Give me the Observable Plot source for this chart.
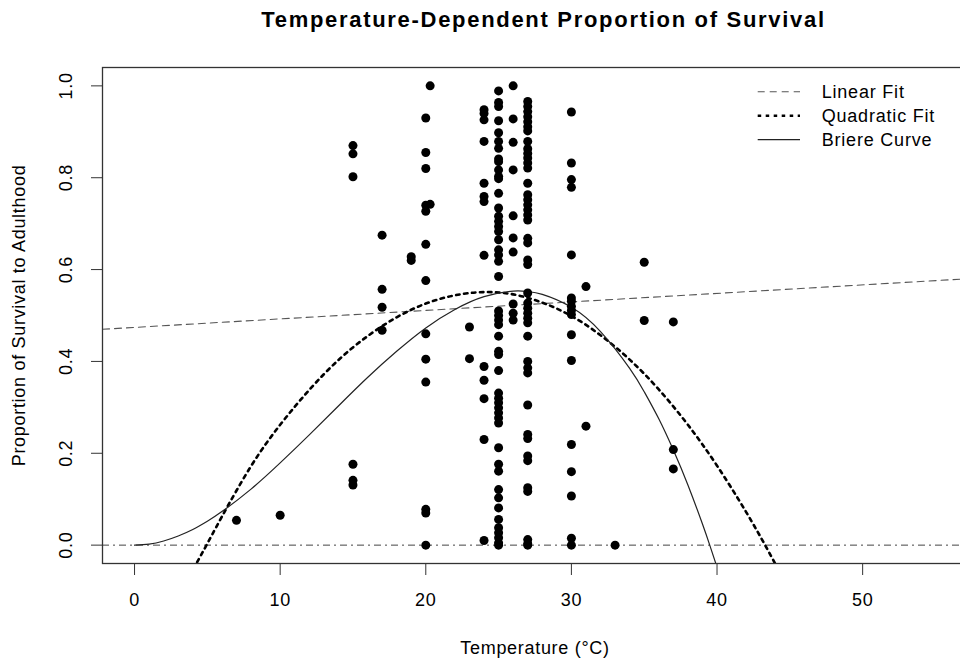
<!DOCTYPE html>
<html>
<head>
<meta charset="utf-8">
<script src="https://cdn.jsdelivr.net/npm/d3@7"></script>
<script src="https://cdn.jsdelivr.net/npm/@observablehq/plot@0.6"></script>
<style>
  html, body { margin: 0; padding: 0; background: #fff; overflow: hidden; }
  #wrap { position: relative; width: 960px; height: 662px; overflow: hidden;
          font-family: "Liberation Sans", Arial, Helvetica, sans-serif; }
  #title { position: absolute; left: 102px; width: 883px; top: 9px; line-height: 22px;
           text-align: center; font-weight: bold; font-size: 22px; letter-spacing: 1.7px; color: #000; }
  #legend { position: absolute; left: 750px; top: 78px; overflow: visible; }
</style>
</head>
<body>
<div id="wrap">
  <div id="chart"></div>
  <div id="title"></div>
  <svg id="legend" width="210" height="80"></svg>
</div>
<script>
// ---- Text ----
const titleText = "Temperature-Dependent Proportion of Survival";
const xLabel = "Temperature (°C)";
const yLabel = "Proportion of Survival to Adulthood";
const xTicks = [0, 10, 20, 30, 40, 50];
const yTicks = [0, 0.2, 0.4, 0.6, 0.8, 1.0];
const legendLabels = ["Linear Fit", "Quadratic Fit", "Briere Curve"];

// ---- Observed proportions, per temperature (°C) ----
const s7 = [0.054];
const s10 = [0.065];
const s15 = [0.870, 0.852, 0.802, 0.176, 0.141, 0.131];
const s17 = [0.675, 0.557, 0.518, 0.468];
const s19 = [0.628, 0.620];
const s20 = [0.930, 0.855, 0.820, 0.740, 0.727, 0.655, 0.576, 0.460, 0.405, 0.355, 0.078, 0.070, 0.0];
const s20b = [1.0, 0.742];
const s23 = [0.475, 0.406];
const s24 = [0.948, 0.940, 0.926, 0.879, 0.788, 0.759, 0.748, 0.631, 0.389, 0.359, 0.319, 0.230, 0.010];
const s25 = [0.989, 0.964, 0.955, 0.924, 0.898, 0.879, 0.864, 0.841, 0.835, 0.817, 0.803, 0.798, 0.766,
             0.734, 0.716, 0.705, 0.694, 0.683, 0.665, 0.643, 0.632, 0.618, 0.585, 0.510, 0.500, 0.490,
             0.480, 0.455, 0.422, 0.415, 0.380, 0.331, 0.320, 0.310, 0.299, 0.288, 0.277, 0.266, 0.212,
             0.176, 0.161, 0.121, 0.103, 0.081, 0.056, 0.038, 0.027, 0.016, 0.005, 0.0];
const s26 = [1.0, 0.928, 0.877, 0.817, 0.717, 0.669, 0.638, 0.525, 0.505, 0.490];
const s27 = [0.966, 0.955, 0.944, 0.933, 0.922, 0.911, 0.902, 0.879, 0.863, 0.853, 0.843, 0.832, 0.821,
             0.788, 0.763, 0.752, 0.741, 0.730, 0.719, 0.708, 0.668, 0.658, 0.621, 0.611, 0.549, 0.527,
             0.516, 0.505, 0.494, 0.484, 0.455, 0.400, 0.386, 0.375, 0.305, 0.241, 0.232, 0.194, 0.184,
             0.125, 0.117, 0.012, 0.003, 0.0];
const s30 = [0.943, 0.832, 0.796, 0.779, 0.632, 0.538, 0.531, 0.520, 0.511, 0.502, 0.458, 0.402, 0.219,
             0.160, 0.107, 0.015, 0.0];
const s31 = [0.563, 0.259];
const s33 = [0.0];
const s35 = [0.616, 0.489];
const s37 = [0.486, 0.208, 0.166];
const columnTemps = [7, 10, 15, 17, 19, 20, 20.3, 23, 24, 25, 26, 27, 30, 31, 33, 35, 37];
const columnValues = [s7, s10, s15, s17, s19, s20, s20b, s23, s24, s25, s26, s27, s30, s31, s33, s35, s37];

// ---- Fitted curves ----
const linearT = [-2.2, 57.2];
const linearY = [0.470, 0.580];
const quadT = [4.3, 4.94, 6, 8, 10, 12, 14, 16, 18, 20, 22, 24, 26, 28, 30, 32, 34, 36, 38, 40, 42, 43.3, 44];
const quadY = [-0.037, 0.0, 0.062, 0.172, 0.262, 0.338, 0.403, 0.455, 0.496, 0.526, 0.544, 0.551, 0.546,
               0.528, 0.499, 0.457, 0.404, 0.339, 0.262, 0.173, 0.072, 0.0, -0.041];
const briereT = [0, 1, 2, 3, 4, 5, 6, 8, 10, 12, 14, 16, 18, 20, 22, 24, 26, 27, 28, 30, 32, 34, 35, 36, 37, 38, 39, 39.5, 40];
const briereY = [0, 0.002, 0.009, 0.020, 0.034, 0.052, 0.073, 0.122, 0.179, 0.240, 0.303, 0.365, 0.422,
                 0.473, 0.513, 0.541, 0.553, 0.552, 0.546, 0.518, 0.465, 0.385, 0.334, 0.275, 0.207, 0.131,
                 0.046, 0.0, -0.048];

// ---- Build tables ----
const points = [];
columnTemps.forEach((t, i) => columnValues[i].forEach(v => points.push({t, v})));
const linearData = linearT.map((t, i) => ({t, v: linearY[i]}));
const quadData = quadT.map((t, i) => ({t, v: quadY[i]}));
const briereData = briereT.map((t, i) => ({t, v: briereY[i]}));

const FONT = "Liberation Sans, Arial, Helvetica, sans-serif";
const chart = Plot.plot({
  width: 960,
  height: 662,
  marginLeft: 102,
  marginRight: -7,
  marginTop: 67,
  marginBottom: 99,
  style: {fontFamily: FONT, fontSize: "18px", letterSpacing: "0.7px", background: "white", color: "#000", overflow: "hidden"},
  x: {domain: [-2.2, 57.2]},
  y: {domain: [-0.04, 1.04]},
  marks: [
    Plot.axisX({ticks: xTicks, tickSize: 12, tickPadding: 18, fontSize: 18, label: null, stroke: "#333"}),
    Plot.axisY({ticks: yTicks, tickSize: 11, tickFormat: () => "", label: null, stroke: "#333"}),
    Plot.text(yTicks, {y: d => d, frameAnchor: "left", dx: -36, rotate: -90, textAnchor: "middle",
                       lineAnchor: "middle", text: d => d.toFixed(1), fontSize: 18, fill: "#000"}),
    Plot.text([xLabel], {frameAnchor: "bottom", dy: 85, lineAnchor: "middle", textAnchor: "middle",
                         text: d => d, fontSize: 18, fill: "#000"}),
    Plot.text([yLabel], {frameAnchor: "left", dx: -83, rotate: -90, textAnchor: "middle", lineAnchor: "middle",
                         text: d => d, fontSize: 18, fill: "#000"}),
    Plot.ruleY([0], {stroke: "#444", strokeWidth: 1, strokeDasharray: "7,4,2,4"}),
    Plot.line(linearData, {x: "t", y: "v", stroke: "#555", strokeWidth: 1.1, strokeDasharray: "7,5", clip: true}),
    Plot.line(quadData, {x: "t", y: "v", curve: "natural", stroke: "#000", strokeWidth: 2.6,
                         strokeDasharray: "3.5,4.5", clip: true}),
    Plot.line(briereData, {x: "t", y: "v", curve: "natural", stroke: "#222", strokeWidth: 1.2, clip: true}),
    Plot.dot(points, {x: "t", y: "v", r: 4.5, fill: "#000", stroke: "none"}),
    Plot.frame({stroke: "#333", strokeWidth: 1.3})
  ]
});
document.getElementById("chart").appendChild(chart);
document.getElementById("title").textContent = titleText;

// ---- Legend ----
const legendStyles = [
  {stroke: "#555", width: 1.1, dash: "7,5"},
  {stroke: "#000", width: 2.6, dash: "3.5,4.5"},
  {stroke: "#222", width: 1.2, dash: null}
];
const leg = d3.select("#legend");
legendLabels.forEach((lab, i) => {
  const cy = 13.7 + i * 24;
  const s = legendStyles[i];
  leg.append("line").attr("x1", 7.7).attr("x2", 50).attr("y1", cy).attr("y2", cy)
    .attr("stroke", s.stroke).attr("stroke-width", s.width)
    .attr("stroke-dasharray", s.dash);
  leg.append("text").attr("x", 71.7).attr("y", cy).attr("dy", "0.35em")
    .attr("font-family", FONT).attr("font-size", 18).attr("letter-spacing", "0.8px")
    .attr("fill", "#000").text(lab);
});
</script>
</body>
</html>
